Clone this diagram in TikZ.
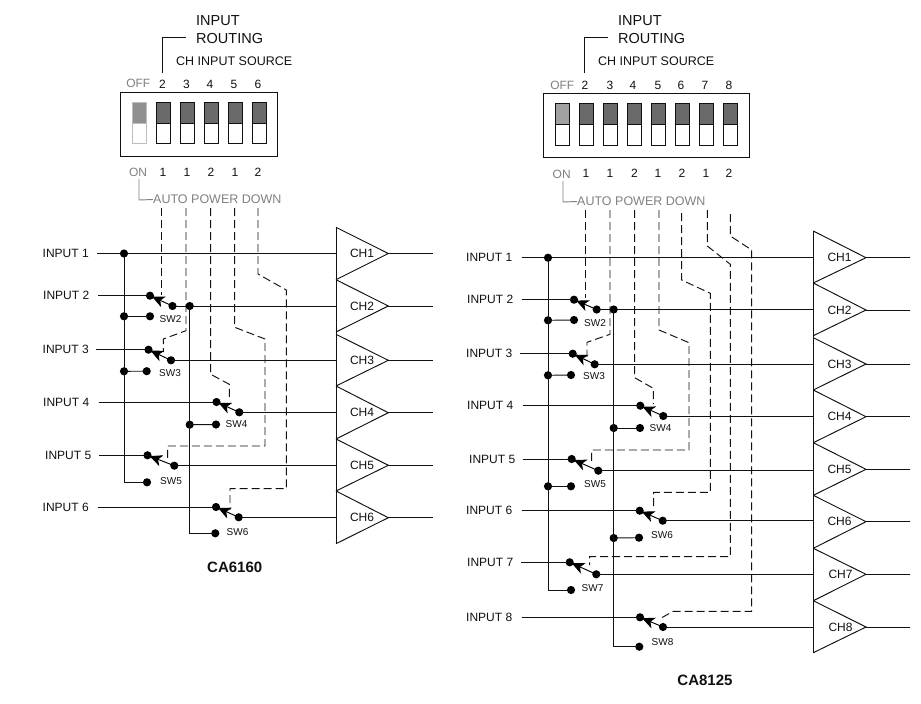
\documentclass[tikz,border=0pt]{standalone}
\usepackage{fontspec}
\setmainfont{Liberation Sans}
\usetikzlibrary{arrows.meta}
\definecolor{ink}{HTML}{111111}
\definecolor{dimtext}{HTML}{808080}
\definecolor{knob}{HTML}{6A6A6A}
\definecolor{knobdim}{HTML}{A0A0A0}
\tikzset{
  txt/.style={inner sep=0pt,text=ink,font=\fontsize{#1}{#1}\selectfont},
  txt/.default=12,
  lefttxt/.style={txt=#1,anchor=west},
  lefttxt/.default=12,
  dimtxt/.style={inner sep=0pt,text=dimtext,font=\fontsize{12}{12}\selectfont},
  wire/.style={draw=ink,line width=0.95pt},
  ctl/.style={draw=ink,line width=0.95pt,dash pattern=on 8pt off 4pt},
  dimwire/.style={draw=dimtext,line width=0.95pt},
  amp/.style={draw=ink,line width=0.95pt,line join=miter},
  dot/.style={circle,fill=black,inner sep=0pt,minimum size=8.2pt},
  arm/.style={draw=black,line width=0.95pt,shorten >=-2pt,-{Stealth[length=12.5pt,width=11.5pt,inset=3.5pt]}},
  dipbox/.style={draw=ink,line width=0.95pt},
  swbody/.style={draw=ink,line width=0.95pt,fill=white},
  swknob/.style={draw=ink,line width=0.95pt,fill=knob},
  swdimbody/.style={draw=knobdim!70,line width=0.95pt,fill=white},
  swdimknob/.style={draw=knobdim!70,line width=0.95pt,fill=knobdim!70!knob},
}
\begin{document}
\begin{tikzpicture}[x=1pt,y=-1pt]
\useasboundingbox[fill=white] (0,0) rectangle (921,704);

% ===== LEFT PANEL CA6160 =====
\node[lefttxt=14.5] (a-input) at (196,20.5) {INPUT};
\node[lefttxt=14.5] (a-routing) at (196,38.5) {ROUTING};
\node[lefttxt=12.5] (a-source) at (176,61) {CH INPUT SOURCE};
\coordinate (a-br0) at (162.5,73);
\coordinate (a-br1) at (162.5,37.5);
\coordinate (a-br2) at (186,37.5);
\draw[wire] (a-br0) -- (a-br1) -- (a-br2);
\draw[dipbox] (120,92) rectangle (277,156);
\draw[swdimbody] (132.5,102) rectangle (146.3,143.7);
\draw[swdimknob] (132.5,102) rectangle (146.3,123);
\foreach \x in {156.3,180.3,204.3,228.3,252.3}{
  \draw[swbody] (\x,102) rectangle ++(13.8,41.7);
  \draw[swknob] (\x,102) rectangle ++(13.8,21);
}
\node[dimtxt] (a-off) at (138.3,83) {OFF};
\node[dimtxt] (a-on) at (138,172) {ON};
\foreach \n/\x in {2/162.5,3/186.5,4/210,5/234,6/258}
  \node[txt] (a-top\n) at (\x,84.5) {\n};
\foreach \i/\t/\x in {2/1/163,3/1/187,4/2/211,5/1/235,6/2/258}
  \node[txt] (a-bot\i) at (\x,172) {\t};
\node[dimtxt,anchor=west,font=\fontsize{12.5}{12.5}\selectfont] (a-apd) at (153,199.5) {AUTO POWER DOWN};
\coordinate (a-ap0) at (139,179);
\coordinate (a-ap1) at (139,200);
\draw[dimwire] (a-ap0) -- (a-ap1) -- (a-apd.west);

% amplifiers
\foreach \n/\t/\m/\b in {1/227.3/253.5/279.7,2/279.7/306/332,3/334.3/360.3/386,4/386/412.7/439,5/439/465.3/491,6/491/517.7/543.7}{
  \coordinate (a-amptop\n) at (336,\t);
  \coordinate (a-ampbot\n) at (336,\b);
  \coordinate (a-amptip\n) at (388.3,\m);
  \coordinate (a-ampin\n) at (336,\m);
  \coordinate (a-ampout\n) at (432.5,\m);
  \draw[amp] (a-amptop\n) -- (a-amptip\n) -- (a-ampbot\n);
  \draw[wire] (a-amptip\n) -- (a-ampout\n);
  \node[txt] (a-ch\n) at (362,\m) {CH\n};
}
\coordinate (a-ampl0) at (336,227.3);
\coordinate (a-ampl1) at (336,543.7);
\draw[amp] (a-ampl0) -- (a-ampl1);

% control lines
\draw[ctl] (161.5,208) -- (161.5,295);
\draw[ctl] (186,208) -- (186,330.7) -- (163.3,339) -- (163.3,352);
\draw[ctl] (210.7,208) -- (210.7,374.3) -- (229.3,384.3) -- (229.3,400);
\draw[ctl] (234.7,208) -- (234.7,327.3) -- (265,339) -- (265,446) -- (167.7,446) -- (167.7,458);
\draw[ctl] (258,208) -- (258,274) -- (286.3,290) -- (286.3,488.7) -- (230,488.7) -- (230,510);

% switches
\foreach \n/\tx/\lx/\iy/\ix/\ox/\oy/\wx/\wy/\sx/\sy in {
  2/43/98/295.7/150/172.5/306/150/316.3/170.5/319.5,
  3/42.5/96/349.7/148.5/171/360.3/146.7/371.2/170/373,
  4/43/98.5/402/216.5/239.3/412.3/216/424.5/236.5/424.5,
  5/45/99/455.3/147.5/174.3/465.7/147/482.3/171/481,
  6/42.5/98/507/216/238.7/517.3/215.3/533.3/237.5/532}{
  \node[lefttxt] (a-lab\n) at (\tx,\iy) {INPUT \n};
  \coordinate (a-start\n) at (\lx,\iy);
  \node[dot] (a-in\n) at (\ix,\iy) {};
  \node[dot] (a-out\n) at (\ox,\oy) {};
  \node[dot] (a-low\n) at (\wx,\wy) {};
  \node[txt=10] (a-sw\n) at (\sx,\sy) {SW\n};
  \draw[wire] (a-start\n) -- (a-in\n.center);
  \draw[wire] (a-out\n.center) -- (\ox,\oy -| a-ampin\n);
  \draw[arm] (a-out\n.center) -- (a-in\n);
}
\node[lefttxt] (a-lab1) at (42.5,253.7) {INPUT 1};
\coordinate (a-start1) at (97,253.5);
\draw[wire] (a-start1) -- (a-ampin1);
\node[dot] (a-j1) at (124,253.5) {};
\node[dot] (a-j2) at (124,316.3) {};
\node[dot] (a-j3) at (124,371.3) {};
\node[dot] (a-j4) at (189.7,306) {};
\node[dot] (a-j5) at (189.7,424.7) {};
\coordinate (a-c1) at (124,482.3);
\coordinate (a-c2) at (189.7,533.3);
\draw[wire] (a-j1.center) -- (a-c1) -- (a-low5.center);
\draw[wire] (a-j4.center) -- (a-c2) -- (a-low6.center);
\draw[wire] (a-j2.center) -- (a-low2.center);
\draw[wire] (a-j3.center) -- (a-low3.center);
\draw[wire] (a-j5.center) -- (a-low4.center);
\node[font=\fontsize{15}{15}\selectfont\bfseries,inner sep=0pt,text=ink] (a-title) at (234.7,567) {CA6160};

% ===== RIGHT PANEL CA8125 =====
\node[lefttxt=14.5] (b-input) at (618,20.5) {INPUT};
\node[lefttxt=14.5] (b-routing) at (618,38.5) {ROUTING};
\node[lefttxt=12.5] (b-source) at (598,61.5) {CH INPUT SOURCE};
\coordinate (b-br0) at (584.7,73);
\coordinate (b-br1) at (584.7,37.7);
\coordinate (b-br2) at (608,37.7);
\draw[wire] (b-br0) -- (b-br1) -- (b-br2);
\draw[dipbox] (543.3,93.3) rectangle (749.7,157.7);
\draw[swbody] (555.5,103.3) rectangle (569.3,145.3);
\draw[swknob,fill=knobdim] (555.5,103.3) rectangle (569.3,124.3);
\foreach \x in {579.6,603.6,627.6,651.6,675.6,699.6,723.5}{
  \draw[swbody] (\x,103.3) rectangle ++(13.7,42);
  \draw[swknob] (\x,103.3) rectangle ++(13.7,21);
}
\node[dimtxt] (b-off) at (562.3,85.5) {OFF};
\node[dimtxt] (b-on) at (561.7,174.5) {ON};
\foreach \n/\x in {2/585,3/610,4/633,5/658,6/681,7/705,8/729}
  \node[txt] (b-top\n) at (\x,85.7) {\n};
\foreach \i/\t/\x in {2/1/586,3/1/610,4/2/634.5,5/1/658,6/2/682,7/1/706,8/2/729}
  \node[txt] (b-bot\i) at (\x,173) {\t};
\node[dimtxt,anchor=west,font=\fontsize{12.5}{12.5}\selectfont] (b-apd) at (577,201.5) {AUTO POWER DOWN};
\coordinate (b-ap0) at (563,181);
\coordinate (b-ap1) at (563,202);
\draw[dimwire] (b-ap0) -- (b-ap1) -- (b-apd.west);

\foreach \n/\t/\m/\b/\cx in {1/231/257.7/283/839.5,2/283/310/335.7/839.5,3/337.7/364/390/839.5,4/390/416.7/442.7/839.5,5/442.7/469.3/495.3/839.5,6/495.3/521.7/548.3/839.5,7/548.3/574.3/600.7/840.5,8/600.7/627/652.7/840.5}{
  \coordinate (b-amptop\n) at (813.3,\t);
  \coordinate (b-ampbot\n) at (813.3,\b);
  \coordinate (b-amptip\n) at (866,\m);
  \coordinate (b-ampin\n) at (813.3,\m);
  \coordinate (b-ampout\n) at (909.5,\m);
  \draw[amp] (b-amptop\n) -- (b-amptip\n) -- (b-ampbot\n);
  \draw[wire] (b-amptip\n) -- (b-ampout\n);
  \node[txt] (b-ch\n) at (\cx,\m) {CH\n};
}
\coordinate (b-ampl0) at (813.3,231);
\coordinate (b-ampl1) at (813.3,652.7);
\draw[amp] (b-ampl0) -- (b-ampl1);

\draw[ctl] (585.3,210) -- (585.3,298);
\draw[ctl] (610,210) -- (610,334.3) -- (587,342.3) -- (587,357);
\draw[ctl] (634.7,210) -- (634.7,377.7) -- (653.3,388.3) -- (653.3,404);
\draw[ctl] (659,210) -- (659,330) -- (689,342.7) -- (689,450) -- (591.7,450) -- (591.7,461);
\draw[ctl] (681.7,213) -- (681.7,280) -- (710.3,293.3) -- (710.3,492.3) -- (653.7,492.3) -- (653.7,508);
\draw[ctl] (707.3,210) -- (707.3,246) -- (730.3,264.3) -- (730.3,556.7) -- (589.7,556.7) -- (589.7,565);
\draw[ctl] (730.3,214) -- (730.3,236) -- (751.7,250) -- (751.7,611.3) -- (673.3,611.3) -- (659.3,619);

\foreach \n/\tx/\lx/\iy/\ix/\ox/\oy/\wx/\wy/\sx/\sy in {
  2/467/522/299.7/574/596.7/309.5/574/320/595/323.5,
  3/466/520/353.7/572.7/594.7/364.3/571/375/594/376.5,
  4/467/523/405.7/640.3/663.3/416/640/428/660.5/428,
  5/469/522.7/459/571.7/598.3/470.7/571/486.3/595/484.5,
  6/466/522/510.7/639.7/662.7/520.7/639/537.7/662/535.5,
  7/467/521/562.3/569.7/596.3/574.3/571/590/592.5/588,
  8/466/522/617.3/640/663/627/639.3/646.7/662.5/642}{
  \node[lefttxt] (b-lab\n) at (\tx,\iy) {INPUT \n};
  \coordinate (b-start\n) at (\lx,\iy);
  \node[dot] (b-in\n) at (\ix,\iy) {};
  \node[dot] (b-out\n) at (\ox,\oy) {};
  \node[dot] (b-low\n) at (\wx,\wy) {};
  \node[txt=10] (b-sw\n) at (\sx,\sy) {SW\n};
  \draw[wire] (b-start\n) -- (b-in\n.center);
  \draw[wire] (b-out\n.center) -- (\ox,\oy -| b-ampin\n);
  \draw[arm] (b-out\n.center) -- (b-in\n);
}
\node[lefttxt] (b-lab1) at (466,257.3) {INPUT 1};
\coordinate (b-start1) at (521.7,257.7);
\draw[wire] (b-start1) -- (b-ampin1);
\node[dot] (b-j1) at (548,257.7) {};
\node[dot] (b-j2) at (548,320.3) {};
\node[dot] (b-j3) at (548,375.3) {};
\node[dot] (b-j6) at (548,486.3) {};
\node[dot] (b-j4) at (613.7,309.5) {};
\node[dot] (b-j5) at (613.7,428) {};
\node[dot] (b-j7) at (613.7,538) {};
\coordinate (b-c1) at (548,590);
\coordinate (b-c2) at (613.7,646.7);
\draw[wire] (b-j1.center) -- (b-c1) -- (b-low7.center);
\draw[wire] (b-j4.center) -- (b-c2) -- (b-low8.center);
\draw[wire] (b-j2.center) -- (b-low2.center);
\draw[wire] (b-j3.center) -- (b-low3.center);
\draw[wire] (b-j5.center) -- (b-low4.center);
\draw[wire] (b-j6.center) -- (b-low5.center);
\draw[wire] (b-j7.center) -- (b-low6.center);
\node[font=\fontsize{15}{15}\selectfont\bfseries,inner sep=0pt,text=ink] (b-title) at (705,680.5) {CA8125};
\end{tikzpicture}
\end{document}
